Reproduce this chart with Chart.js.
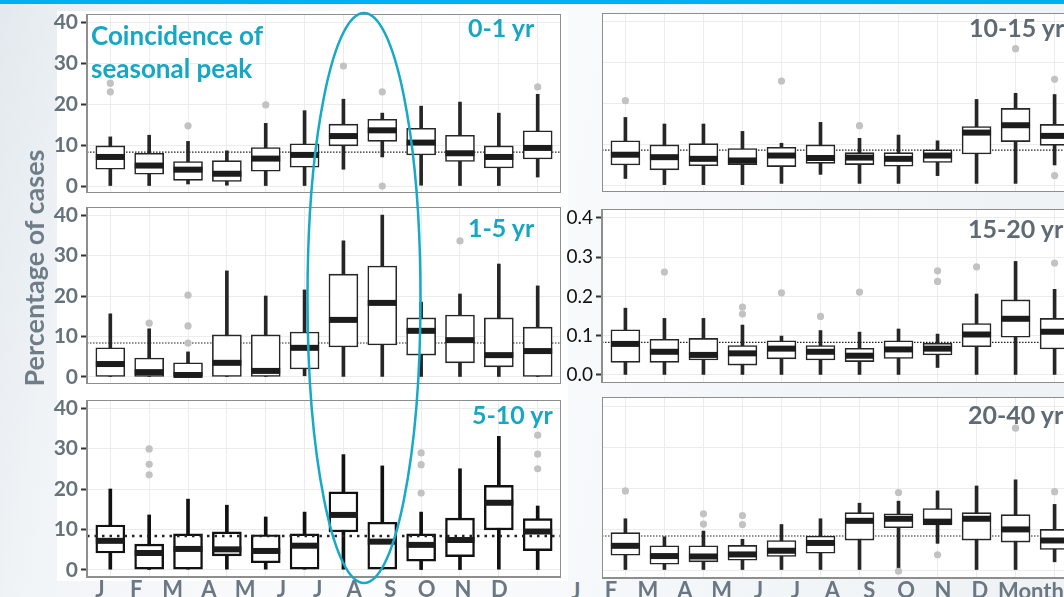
<!DOCTYPE html>
<html lang="en">
<head>
<meta charset="UTF-8" />
<title>Seasonal peak by age group</title>
<script src="https://cdn.jsdelivr.net/npm/chart.js"></script>
<style>
  html, body { margin: 0; padding: 0; }
  body {
    width: 1064px; height: 597px; overflow: hidden; position: relative;
    font-family: Lato, 'Open Sans', sans-serif;
    background: linear-gradient(100deg, #e3e9ee 0%, #f2f5f8 12%, #fbfcfd 40%, #f3f6f9 70%, #eef2f5 100%);
  }
  .topbar { position: absolute; left: 0; top: 0; width: 1064px; height: 4px; background: #00b0f0; }
  .sheet { position: absolute; left: 57px; top: 11px; width: 511px; height: 570px; background: #fff; }
  .panel { position: absolute; }
  .lbl { position: absolute; font-weight: 700; line-height: 1; white-space: nowrap; }
  .cyan { color: #16a7c5; }
  .grey { color: #5f6b74; }
  .axis { color: #6b7783; font-size: 22px; }
  #ytitle {
    position: absolute; left: 33px; top: 268px; font-size: 27px; font-weight: 700; color: #6f7d88;
    transform: translate(-50%, -50%) rotate(-90deg); white-space: nowrap;
  }
  #ring { position: absolute; left: 0; top: 0; pointer-events: none; }
</style>
</head>
<body>
<div class="topbar"></div>
<div class="sheet"></div>

<div class="panel" style="left:40px; top:14px; width:521px; height:179px;"><canvas id="p01"></canvas></div>
<div class="panel" style="left:40px; top:207px; width:521px; height:177px;"><canvas id="p15"></canvas></div>
<div class="panel" style="left:40px; top:400px; width:521px; height:207px;"><canvas id="p510"></canvas></div>
<div class="panel" style="left:602px; top:13px; width:476px; height:179px;"><canvas id="p1015"></canvas></div>
<div class="panel" style="left:562px; top:209px; width:516px; height:174px;"><canvas id="p1520"></canvas></div>
<div class="panel" style="left:602px; top:397px; width:476px; height:211px;"><canvas id="p2040"></canvas></div>

<div class="lbl cyan" style="left:91px; top:19px; font-size:26px; line-height:33px;">Coincidence of<br>seasonal peak</div>
<div class="lbl cyan" style="left:468px; top:15px; font-size:25px;">0-1 yr</div>
<div class="lbl cyan" style="left:468px; top:215px; font-size:25px;">1-5 yr</div>
<div class="lbl cyan" style="left:472px; top:402px; font-size:25px;">5-10 yr</div>
<div class="lbl grey" style="left:969px; top:15px; font-size:25px;">10-15 yr</div>
<div class="lbl grey" style="left:968px; top:216px; font-size:25px;">15-20 yr</div>
<div class="lbl grey" style="left:968px; top:402px; font-size:25px;">20-40 yr</div>
<div class="lbl axis" style="left:571px; top:580px;">J</div>
<div class="lbl axis" style="left:998px; top:580px;">Month</div>
<div id="ytitle">Percentage of cases</div>

<svg id="ring" width="1064" height="597">
  <ellipse cx="364" cy="298" rx="56.5" ry="285" fill="none" stroke="#17a9c8" stroke-width="2.5" />
</svg>

<script>
  // month labels and tick values
  const monthsLeft = ['J', 'F', 'M', 'A', 'M', 'J', 'J', 'A', 'S', 'O', 'N', 'D'];
  const monthsRight = ['F', 'M', 'A', 'M', 'J', 'J', 'A', 'S', 'O', 'N', 'D'];
  const pctTicks = [0, 10, 20, 30, 40];
  const fracTicks = [0, 0.1, 0.2, 0.3, 0.4];

  // each row: [lower whisker, q1, median, q3, upper whisker]
  const box01 = [
    [0, 4.1, 7.1, 9.8, 12.0], [0, 2.9, 5.0, 8.0, 12.4], [0.5, 1.4, 4.0, 6.0, 10.9],
    [0.2, 1.1, 3.0, 6.2, 8.6], [0, 3.6, 6.7, 9.4, 15.3], [0, 4.6, 7.6, 10.3, 18.4],
    [4.1, 9.8, 12.2, 15.1, 21.2], [7.1, 10.9, 13.6, 16.3, 17.8], [0.2, 7.6, 10.6, 14.1, 19.5],
    [0, 6.0, 8.0, 12.4, 20.5], [0, 4.4, 7.1, 9.8, 17.8], [2.2, 6.6, 9.3, 13.5, 22.4]
  ];
  const out01 = [[0, 25.1], [0, 23.0], [2, 14.7], [4, 19.8], [6, 29.3], [7, 23.0], [7, 0], [11, 24.2]];

  const box15 = [
    [0, 0, 3.2, 7.2, 15.6], [0, 0, 1.2, 4.7, 11.9], [0, 0, 0.5, 3.5, 6.2],
    [0, 0, 3.5, 10.4, 26.2], [0, 0, 1.5, 10.4, 20.0], [0.3, 2.0, 7.2, 11.1, 21.5],
    [0, 7.4, 14.1, 25.4, 33.6], [0, 7.9, 18.3, 27.4, 40.0], [0, 5.4, 11.4, 14.6, 18.5],
    [0, 3.5, 9.1, 15.3, 20.5], [0, 2.5, 5.4, 14.6, 27.9], [0, 0, 6.4, 12.3, 22.5]
  ];
  const out15 = [[1, 13.3], [2, 20.2], [2, 12.6], [2, 8.4], [9, 33.6]];

  const box510 = [
    [0.2, 4.2, 7.2, 11.1, 20.0], [0, 0.2, 4.2, 6.4, 13.6], [0.2, 0.2, 5.2, 8.9, 17.5],
    [0.2, 3.5, 5.1, 9.4, 16.0], [0.2, 1.8, 4.7, 8.7, 13.1], [0.2, 0.2, 6.0, 8.9, 14.3],
    [0.2, 9.4, 13.6, 19.3, 28.5], [0.2, 0.2, 7.0, 11.8, 25.7], [0.1, 2.2, 6.2, 8.9, 14.3],
    [0.1, 3.3, 7.4, 12.8, 25.0], [0.2, 9.9, 16.6, 20.9, 33.0], [0.1, 4.8, 9.5, 12.7, 15.8]
  ];
  const out510 = [[1, 29.9], [1, 26.1], [1, 23.5], [8, 28.9], [8, 26.0], [8, 19.0], [11, 33.3], [11, 28.6], [11, 25.0]];

  const box1015 = [
    [1.6, 4.9, 7.4, 10.8, 16.5], [0.1, 3.7, 6.8, 9.8, 14.9], [0.1, 4.7, 6.4, 10.1, 14.9],
    [0.1, 5.0, 6.0, 8.9, 13.1], [0.4, 4.5, 7.2, 9.2, 10.2], [2.6, 5.3, 6.6, 9.8, 15.3],
    [0.4, 5.0, 6.7, 7.9, 11.4], [0.4, 4.6, 6.4, 7.9, 12.2], [2.3, 5.5, 7.2, 8.6, 10.8],
    [0.4, 7.6, 12.8, 14.3, 20.9], [0.4, 10.6, 14.6, 18.7, 22.4], [4.9, 9.7, 12.0, 14.8, 22.1]
  ];
  const out1015 = [[0, 20.6], [4, 25.4], [6, 14.5], [10, 33.3], [11, 25.8], [11, 2.3]];

  const box1520 = [
    [0, 0.032, 0.079, 0.115, 0.170], [0, 0.032, 0.059, 0.091, 0.144], [0, 0.038, 0.051, 0.093, 0.144],
    [0, 0.025, 0.055, 0.075, 0.127], [0, 0.041, 0.067, 0.087, 0.099], [0, 0.038, 0.059, 0.075, 0.113],
    [0, 0.034, 0.049, 0.068, 0.109], [0, 0.042, 0.065, 0.087, 0.117], [0.019, 0.051, 0.067, 0.081, 0.104],
    [0, 0.072, 0.103, 0.131, 0.206], [0, 0.096, 0.143, 0.191, 0.289], [0, 0.066, 0.110, 0.144, 0.218]
  ];
  const out1520 = [[1, 0.262], [3, 0.173], [3, 0.155], [4, 0.209], [5, 0.149], [6, 0.211], [8, 0.265], [8, 0.238], [9, 0.275], [11, 0.285]];

  const box2040 = [
    [0, 3.6, 5.9, 9.1, 12.5], [0, 1.4, 3.4, 5.9, 8.1], [0, 2.0, 3.3, 5.9, 9.5],
    [0, 2.4, 3.8, 6.0, 7.5], [0, 3.3, 4.7, 7.2, 11.1], [0, 4.1, 6.6, 8.3, 12.5],
    [0, 7.3, 12.0, 14.0, 16.3], [0, 10.3, 12.5, 13.7, 16.8], [6.5, 11.0, 11.8, 15.0, 19.3],
    [0, 7.3, 12.5, 14.0, 20.5], [0, 6.8, 9.9, 13.5, 22.0], [2.0, 5.0, 7.2, 9.9, 16.0]
  ];
  const out2040 = [[0, 19.3], [2, 13.7], [2, 11.2], [3, 13.3], [3, 11.1], [7, 18.9], [7, -0.3], [8, 3.7], [10, 34.6], [11, 19.1]];

  // overall mean (dotted line) per panel
  const ref01 = 8.3, ref15 = 8.4, ref510 = 8.4, ref1015 = 8.5, ref1520 = 0.083, ref2040 = 8.3;

  // white panel with grey frame
  const frame = {
    id: 'frame',
    beforeDraw(chart) {
      const { ctx, chartArea: a } = chart;
      ctx.save();
      ctx.fillStyle = '#fff';
      ctx.fillRect(a.left, a.top, a.width, a.height);
      ctx.restore();
    },
    afterDraw(chart) {
      const { ctx, chartArea: a } = chart;
      ctx.save();
      ctx.strokeStyle = '#8e8e8e';
      ctx.lineWidth = 2;
      ctx.strokeRect(a.left, a.top, a.width, a.height);
      ctx.restore();
    }
  };

  function panel(id, boxes, outliers, ref, o) {
    const last = boxes.length - 1;
    const scales = {
      x: {
        type: 'linear', min: -0.6, max: last + 0.6, offset: false,
        afterBuildTicks: s => { s.ticks = boxes.map((b, i) => ({ value: i })); },
        ticks: { display: false },
        grid: { color: '#ececec', drawTicks: false, offset: false },
        border: { display: false },
        afterFit: s => { s.height = 0; s.paddingLeft = 0; s.paddingRight = 0; }
      },
      y: {
        min: o.yMin, max: o.yMax,
        afterBuildTicks: s => { s.ticks = o.yTicks.map(v => ({ value: v })); },
        ticks: {
          display: o.yWidth > 0,
          padding: 3,
          color: o.tickColor || '#66727c',
          font: { family: 'Lato', size: o.tickSize || 21, weight: o.tickWeight || 'bold' },
          callback: v => o.frac ? v.toFixed(1) : v
        },
        grid: { color: '#ececec', drawTicks: o.yWidth > 0, tickLength: 6, tickWidth: 2, tickColor: '#333' },
        border: { display: false },
        afterFit: s => { s.width = o.yWidth; s.paddingTop = 0; s.paddingBottom = 0; }
      }
    };
    if (o.labels) {
      scales.xl = {
        type: 'linear', position: 'bottom', min: o.lMin, max: o.lMax, offset: false,
        afterBuildTicks: s => { s.ticks = o.labels.map((l, i) => ({ value: i })); },
        ticks: {
          autoSkip: false, maxRotation: 0, padding: 0, color: '#6b7783',
          font: { family: 'Lato', size: 22, weight: 'bold' },
          callback: v => o.labels[v]
        },
        grid: { display: false, drawTicks: false },
        border: { display: false },
        afterFit: s => { s.height = 30; s.paddingLeft = 0; s.paddingRight = 0; }
      };
    }
    const ink = o.heavy ? '#111' : '#262626';
    new Chart(document.getElementById(id), {
      type: 'bar',
      data: {
        datasets: [
          {
            type: 'line', data: [{ x: -0.6, y: ref }, { x: last + 0.6, y: ref }],
            borderColor: '#222', borderWidth: o.heavy ? 2.6 : 1.2,
            borderDash: o.heavy ? [2.5, 5] : [1.5, 1.5],
            pointRadius: 0, order: o.heavy ? 0.5 : 9
          },
          {
            type: 'bar', data: boxes.map((b, i) => ({ x: i, y: [b[0], b[4]] })),
            backgroundColor: ink, barThickness: 3, grouped: false, order: 5
          },
          {
            type: 'bar', data: boxes.map((b, i) => ({ x: i, y: [b[1], b[3]] })),
            backgroundColor: '#fff', borderColor: ink, borderWidth: o.heavy ? 2.4 : 1.6,
            borderSkipped: false, barThickness: 29, grouped: false, order: 4
          },
          {
            type: 'scatter', data: boxes.map((b, i) => ({ x: i, y: b[2] })),
            pointStyle: 'line', pointRadius: 14.5, pointHoverRadius: 14.5,
            pointBorderColor: '#1c1c1c', pointBorderWidth: 6, order: 3
          },
          {
            type: 'scatter', data: outliers.map(p => ({ x: p[0], y: p[1] })),
            pointRadius: 3.6, pointHoverRadius: 3.6,
            pointBackgroundColor: '#c2c2c2', pointBorderWidth: 0, order: 1
          }
        ]
      },
      options: {
        responsive: true, maintainAspectRatio: false, animation: false, events: [],
        layout: { padding: 0, autoPadding: false },
        plugins: { legend: { display: false }, tooltip: { enabled: false } },
        scales
      },
      plugins: [frame]
    });
  }

  panel('p01', box01, out01, ref01, { yMin: -1.7, yMax: 42, yTicks: pctTicks, yWidth: 47 });
  panel('p15', box15, out15, ref15, { yMin: -1.73, yMax: 41.98, yTicks: pctTicks, yWidth: 47 });
  panel('p510', box510, out510, ref510, {
    yMin: -1.73, yMax: 41.98, yTicks: pctTicks, yWidth: 47, heavy: true,
    labels: monthsLeft, lMin: -0.358, lMax: 12.7
  });
  panel('p1015', box1015, out1015, ref1015, { yMin: -1.7, yMax: 42, yTicks: pctTicks, yWidth: 0 });
  panel('p1520', box1520, out1520, ref1520, {
    yMin: -0.0205, yMax: 0.4225, yTicks: fracTicks, yWidth: 40, frac: true,
    tickColor: '#111', tickWeight: 'normal', tickSize: 19
  });
  panel('p2040', box2040, out2040, ref2040, {
    yMin: -1.95, yMax: 42.2, yTicks: pctTicks, yWidth: 0,
    labels: monthsRight, lMin: -0.244, lMax: 12.66
  });
</script>
</body>
</html>
